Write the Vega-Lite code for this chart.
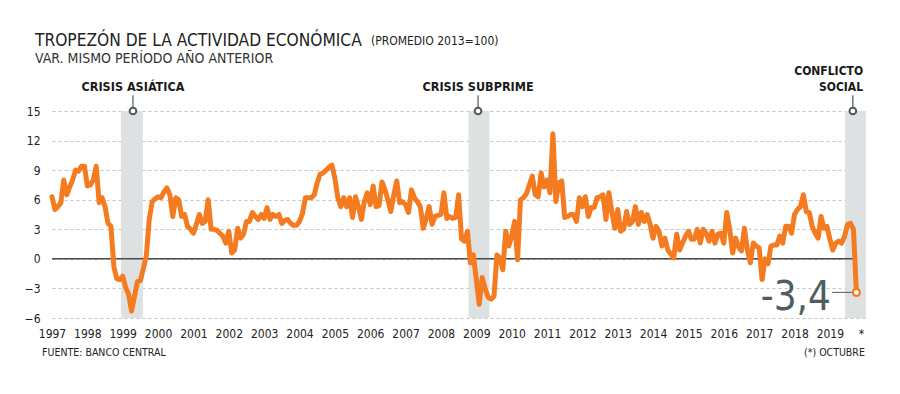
{
"$schema": "https://vega.github.io/schema/vega-lite/v6.json",
"width": 815, "height": 207,
"autosize": "none",
"padding": {"left": 52, "top": 111, "right": 33, "bottom": 76},
"background": "white",
"config": {"view": {"stroke": null}, "font": "DejaVu Sans Condensed"},
"title": {"text": "TROPEZÓN DE LA ACTIVIDAD ECONÓMICA", "subtitle": "VAR. MISMO PERÍODO AÑO ANTERIOR", "anchor": "start", "frame": "group", "dx": -17, "offset": -31, "fontSize": 17.2, "fontWeight": "normal", "color": "#222222", "subtitleFontSize": 14, "subtitleColor": "#333333", "subtitlePadding": 3},
"encoding": {
 "x": {"field": "t", "type": "quantitative", "scale": {"domain": [1997, 2020.05], "nice": false, "zero": false},
   "axis": {"title": null, "values": [1997,1998,1999,2000,2001,2002,2003,2004,2005,2006,2007,2008,2009,2010,2011,2012,2013,2014,2015,2016,2017,2018,2019,2019.88], "labelExpr": "datum.value > 2019.5 ? '*' : '' + datum.value", "labelOverlap": false, "labelFlush": false, "domain": false, "ticks": false, "grid": false, "labelFontSize": 12, "labelColor": "#222222", "labelPadding": 10}},
 "y": {"field": "v", "type": "quantitative", "scale": {"domain": [-6, 15], "nice": false, "zero": false},
   "axis": {"title": null, "values": [-6,-3,0,3,6,9,12,15], "labelOverlap": false, "domain": false, "ticks": false, "grid": true, "gridDash": [3,3], "gridColor": "#c2c2c2", "gridWidth": 1, "labelFontSize": 12, "labelColor": "#222222", "labelPadding": 12}}
},
"layer": [
{"data": {"values": [{"t": 1998.95, "t2": 1999.57, "v": -6, "v2": 15}, {"t": 2008.78, "t2": 2009.37, "v": -6, "v2": 15}, {"t": 2019.43, "t2": 2020.02, "v": -6, "v2": 15}]},
 "mark": {"type": "rect", "color": "#dee1e1"},
 "encoding": {"x2": {"field": "t2"}, "y2": {"field": "v2"}}},
{"data": {"values": [{"t": 1997, "t2": 2019.75, "v": 0}]},
 "mark": {"type": "rule", "color": "#4a4a4a", "strokeWidth": 1.5},
 "encoding": {"x2": {"field": "t2"}}},
{"data": {"values": [{"t": 1999.29, "v": 15, "v2": 16.6}, {"t": 2009.05, "v": 15, "v2": 16.6}, {"t": 2019.65, "v": 15, "v2": 16.6}]},
 "layer": [
  {"mark": {"type": "rule", "color": "#4d5b5e", "strokeWidth": 1.2}, "encoding": {"y2": {"field": "v2"}}},
  {"mark": {"type": "point", "filled": true, "fill": "white", "stroke": "#4d5b5e", "strokeWidth": 2, "size": 45, "opacity": 1}}
 ]},
{"data": {"values": [{"t": 2019.06, "t2": 2019.62, "v": -3.4}]},
 "mark": {"type": "rule", "color": "#4d5b5e", "strokeWidth": 1},
 "encoding": {"x2": {"field": "t2"}}},
{"data": {"values": [
{"t":1997.000,"v":6.3},{"t":1997.083,"v":5.0},{"t":1997.167,"v":5.3},{"t":1997.250,"v":5.7},{"t":1997.333,"v":8.0},{"t":1997.417,"v":6.5},{"t":1997.500,"v":7.3},{"t":1997.583,"v":8.0},{"t":1997.667,"v":9.0},{"t":1997.750,"v":8.9},{"t":1997.833,"v":9.4},{"t":1997.917,"v":9.4},
{"t":1998.000,"v":7.4},{"t":1998.083,"v":7.5},{"t":1998.167,"v":8.0},{"t":1998.250,"v":9.4},{"t":1998.333,"v":5.7},{"t":1998.417,"v":6.2},{"t":1998.500,"v":5.3},{"t":1998.583,"v":3.6},{"t":1998.667,"v":3.3},{"t":1998.750,"v":-0.8},{"t":1998.833,"v":-2.0},{"t":1998.917,"v":-2.1},
{"t":1999.000,"v":-1.75},{"t":1999.083,"v":-2.9},{"t":1999.167,"v":-3.6},{"t":1999.250,"v":-5.3},{"t":1999.333,"v":-3.8},{"t":1999.417,"v":-2.3},{"t":1999.500,"v":-2.2},{"t":1999.583,"v":-1.0},{"t":1999.667,"v":0.3},{"t":1999.750,"v":4.0},{"t":1999.833,"v":5.8},{"t":1999.917,"v":6.1},
{"t":2000.000,"v":6.3},{"t":2000.083,"v":6.2},{"t":2000.167,"v":6.8},{"t":2000.250,"v":7.2},{"t":2000.333,"v":6.5},{"t":2000.417,"v":4.3},{"t":2000.500,"v":6.2},{"t":2000.583,"v":6.0},{"t":2000.667,"v":4.3},{"t":2000.750,"v":4.5},{"t":2000.833,"v":3.3},{"t":2000.917,"v":3.0},
{"t":2001.000,"v":2.6},{"t":2001.083,"v":3.5},{"t":2001.167,"v":4.5},{"t":2001.250,"v":3.6},{"t":2001.333,"v":3.8},{"t":2001.417,"v":6.0},{"t":2001.500,"v":3.0},{"t":2001.583,"v":3.0},{"t":2001.667,"v":2.9},{"t":2001.750,"v":2.6},{"t":2001.833,"v":2.3},{"t":2001.917,"v":1.6},
{"t":2002.000,"v":2.8},{"t":2002.083,"v":0.6},{"t":2002.167,"v":0.9},{"t":2002.250,"v":3.1},{"t":2002.333,"v":2.1},{"t":2002.417,"v":2.5},{"t":2002.500,"v":3.8},{"t":2002.583,"v":3.8},{"t":2002.667,"v":4.7},{"t":2002.750,"v":4.3},{"t":2002.833,"v":4.0},{"t":2002.917,"v":4.5},
{"t":2003.000,"v":4.1},{"t":2003.083,"v":5.2},{"t":2003.167,"v":4.0},{"t":2003.250,"v":4.5},{"t":2003.333,"v":4.3},{"t":2003.417,"v":4.5},{"t":2003.500,"v":3.6},{"t":2003.583,"v":3.9},{"t":2003.667,"v":4.0},{"t":2003.750,"v":3.6},{"t":2003.833,"v":3.4},{"t":2003.917,"v":3.4},
{"t":2004.000,"v":3.8},{"t":2004.083,"v":4.6},{"t":2004.167,"v":6.2},{"t":2004.250,"v":6.2},{"t":2004.333,"v":6.2},{"t":2004.417,"v":6.5},{"t":2004.500,"v":7.7},{"t":2004.583,"v":8.6},{"t":2004.667,"v":8.7},{"t":2004.750,"v":9.0},{"t":2004.833,"v":9.3},{"t":2004.917,"v":9.5},
{"t":2005.000,"v":8.2},{"t":2005.083,"v":6.2},{"t":2005.167,"v":5.3},{"t":2005.250,"v":6.2},{"t":2005.333,"v":5.3},{"t":2005.417,"v":6.2},{"t":2005.500,"v":4.2},{"t":2005.583,"v":6.3},{"t":2005.667,"v":5.3},{"t":2005.750,"v":4.0},{"t":2005.833,"v":5.8},{"t":2005.917,"v":6.7},
{"t":2006.000,"v":5.5},{"t":2006.083,"v":7.4},{"t":2006.167,"v":5.3},{"t":2006.250,"v":5.4},{"t":2006.333,"v":7.8},{"t":2006.417,"v":7.0},{"t":2006.500,"v":6.0},{"t":2006.583,"v":4.8},{"t":2006.667,"v":6.5},{"t":2006.750,"v":7.9},{"t":2006.833,"v":5.7},{"t":2006.917,"v":5.8},
{"t":2007.000,"v":5.5},{"t":2007.083,"v":4.7},{"t":2007.167,"v":7.0},{"t":2007.250,"v":6.2},{"t":2007.333,"v":5.8},{"t":2007.417,"v":5.3},{"t":2007.500,"v":3.1},{"t":2007.583,"v":4.1},{"t":2007.667,"v":5.3},{"t":2007.750,"v":3.5},{"t":2007.833,"v":4.3},{"t":2007.917,"v":4.4},
{"t":2008.000,"v":4.5},{"t":2008.083,"v":6.7},{"t":2008.167,"v":4.1},{"t":2008.250,"v":4.3},{"t":2008.333,"v":4.1},{"t":2008.417,"v":4.2},{"t":2008.500,"v":6.5},{"t":2008.583,"v":2.0},{"t":2008.667,"v":1.8},{"t":2008.750,"v":2.8},{"t":2008.833,"v":-0.4},{"t":2008.917,"v":0.4},
{"t":2009.000,"v":-2.1},{"t":2009.083,"v":-4.6},{"t":2009.167,"v":-1.9},{"t":2009.250,"v":-3.0},{"t":2009.333,"v":-3.9},{"t":2009.417,"v":-4.1},{"t":2009.500,"v":-3.8},{"t":2009.583,"v":0.4},{"t":2009.667,"v":0.1},{"t":2009.750,"v":-1.1},{"t":2009.833,"v":2.8},{"t":2009.917,"v":1.3},
{"t":2010.000,"v":2.3},{"t":2010.083,"v":3.8},{"t":2010.167,"v":-0.1},{"t":2010.250,"v":6.0},{"t":2010.333,"v":6.2},{"t":2010.417,"v":6.6},{"t":2010.500,"v":7.5},{"t":2010.583,"v":8.4},{"t":2010.667,"v":6.5},{"t":2010.750,"v":6.3},{"t":2010.833,"v":8.7},{"t":2010.917,"v":7.3},
{"t":2011.000,"v":8.0},{"t":2011.083,"v":6.7},{"t":2011.167,"v":12.7},{"t":2011.250,"v":5.8},{"t":2011.333,"v":7.7},{"t":2011.417,"v":7.9},{"t":2011.500,"v":4.2},{"t":2011.583,"v":4.3},{"t":2011.667,"v":4.5},{"t":2011.750,"v":4.5},{"t":2011.833,"v":3.8},{"t":2011.917,"v":6.2},
{"t":2012.000,"v":5.3},{"t":2012.083,"v":6.3},{"t":2012.167,"v":4.3},{"t":2012.250,"v":5.2},{"t":2012.333,"v":5.2},{"t":2012.417,"v":6.2},{"t":2012.500,"v":6.3},{"t":2012.583,"v":6.5},{"t":2012.667,"v":4.0},{"t":2012.750,"v":6.7},{"t":2012.833,"v":4.8},{"t":2012.917,"v":3.1},
{"t":2013.000,"v":5.0},{"t":2013.083,"v":2.8},{"t":2013.167,"v":3.0},{"t":2013.250,"v":4.8},{"t":2013.333,"v":3.5},{"t":2013.417,"v":3.8},{"t":2013.500,"v":5.3},{"t":2013.583,"v":3.5},{"t":2013.667,"v":4.7},{"t":2013.750,"v":3.8},{"t":2013.833,"v":4.5},{"t":2013.917,"v":3.5},
{"t":2014.000,"v":2.1},{"t":2014.083,"v":3.3},{"t":2014.167,"v":2.8},{"t":2014.250,"v":1.3},{"t":2014.333,"v":2.1},{"t":2014.417,"v":0.9},{"t":2014.500,"v":0.5},{"t":2014.583,"v":0.1},{"t":2014.667,"v":2.5},{"t":2014.750,"v":0.9},{"t":2014.833,"v":1.6},{"t":2014.917,"v":2.3},
{"t":2015.000,"v":2.8},{"t":2015.083,"v":2.0},{"t":2015.167,"v":2.0},{"t":2015.250,"v":3.0},{"t":2015.333,"v":1.6},{"t":2015.417,"v":3.0},{"t":2015.500,"v":2.6},{"t":2015.583,"v":1.8},{"t":2015.667,"v":2.8},{"t":2015.750,"v":1.6},{"t":2015.833,"v":2.5},{"t":2015.917,"v":2.6},
{"t":2016.000,"v":1.6},{"t":2016.083,"v":4.7},{"t":2016.167,"v":3.0},{"t":2016.250,"v":0.6},{"t":2016.333,"v":2.1},{"t":2016.417,"v":1.2},{"t":2016.500,"v":0.8},{"t":2016.583,"v":3.1},{"t":2016.667,"v":0.9},{"t":2016.750,"v":-0.4},{"t":2016.833,"v":1.6},{"t":2016.917,"v":1.3},
{"t":2017.000,"v":1.1},{"t":2017.083,"v":-2.1},{"t":2017.167,"v":0.0},{"t":2017.250,"v":-0.5},{"t":2017.333,"v":1.3},{"t":2017.417,"v":1.4},{"t":2017.500,"v":1.4},{"t":2017.583,"v":2.3},{"t":2017.667,"v":1.6},{"t":2017.750,"v":3.3},{"t":2017.833,"v":3.3},{"t":2017.917,"v":2.6},
{"t":2018.000,"v":4.5},{"t":2018.083,"v":5.0},{"t":2018.167,"v":5.3},{"t":2018.250,"v":6.5},{"t":2018.333,"v":4.8},{"t":2018.417,"v":4.7},{"t":2018.500,"v":3.3},{"t":2018.583,"v":2.6},{"t":2018.667,"v":2.1},{"t":2018.750,"v":4.3},{"t":2018.833,"v":3.1},{"t":2018.917,"v":3.3},
{"t":2019.000,"v":2.0},{"t":2019.083,"v":0.9},{"t":2019.167,"v":1.6},{"t":2019.250,"v":1.8},{"t":2019.333,"v":1.6},{"t":2019.417,"v":2.3},{"t":2019.500,"v":3.5},{"t":2019.583,"v":3.6},{"t":2019.667,"v":3.0},{"t":2019.750,"v":-3.4}
]},
 "layer": [
  {"mark": {"type": "line", "color": "#f57b20", "strokeWidth": 5, "strokeJoin": "round", "strokeCap": "round"}},
  {"transform": [{"filter": "datum.t > 2019.7"}], "mark": {"type": "point", "filled": true, "fill": "white", "stroke": "#f57b20", "strokeWidth": 2.2, "size": 50, "opacity": 1}}
 ]},
{"data": {"values": [{"t": 1999.29, "v": 17.0, "label": "CRISIS ASIÁTICA"}, {"t": 2009.05, "v": 17.0, "label": "CRISIS SUBPRIME"}]},
 "mark": {"type": "text", "align": "center", "baseline": "alphabetic", "fontSize": 12.5, "fontWeight": "bold", "color": "#1a1a1a"},
 "encoding": {"text": {"field": "label"}}},
{"data": {"values": [{"t": 2019.94, "v": 18.66, "label": "CONFLICTO"}, {"t": 2019.94, "v": 17.0, "label": "SOCIAL"}]},
 "mark": {"type": "text", "align": "right", "baseline": "alphabetic", "fontSize": 12, "fontWeight": "bold", "color": "#1a1a1a"},
 "encoding": {"text": {"field": "label"}}},
{"data": {"values": [{"t": 2019.03, "v": -5.17, "label": "-3,4"}]},
 "mark": {"type": "text", "align": "right", "baseline": "alphabetic", "fontSize": 40, "color": "#4f5d61"},
 "encoding": {"text": {"field": "label"}}},
{"data": {"values": [{"t": 2006.02, "v": 21.7, "label": "(PROMEDIO 2013=100)"}]},
 "mark": {"type": "text", "align": "left", "baseline": "alphabetic", "fontSize": 12, "color": "#222222"},
 "encoding": {"text": {"field": "label"}}},
{"data": {"values": [{"t": 1996.72, "v": -9.9, "label": "FUENTE: BANCO CENTRAL"}]},
 "mark": {"type": "text", "align": "left", "baseline": "alphabetic", "fontSize": 10.5, "color": "#222222"},
 "encoding": {"text": {"field": "label"}}},
{"data": {"values": [{"t": 2019.99, "v": -9.9, "label": "(*) OCTUBRE"}]},
 "mark": {"type": "text", "align": "right", "baseline": "alphabetic", "fontSize": 10.5, "color": "#222222"},
 "encoding": {"text": {"field": "label"}}}
]
}
